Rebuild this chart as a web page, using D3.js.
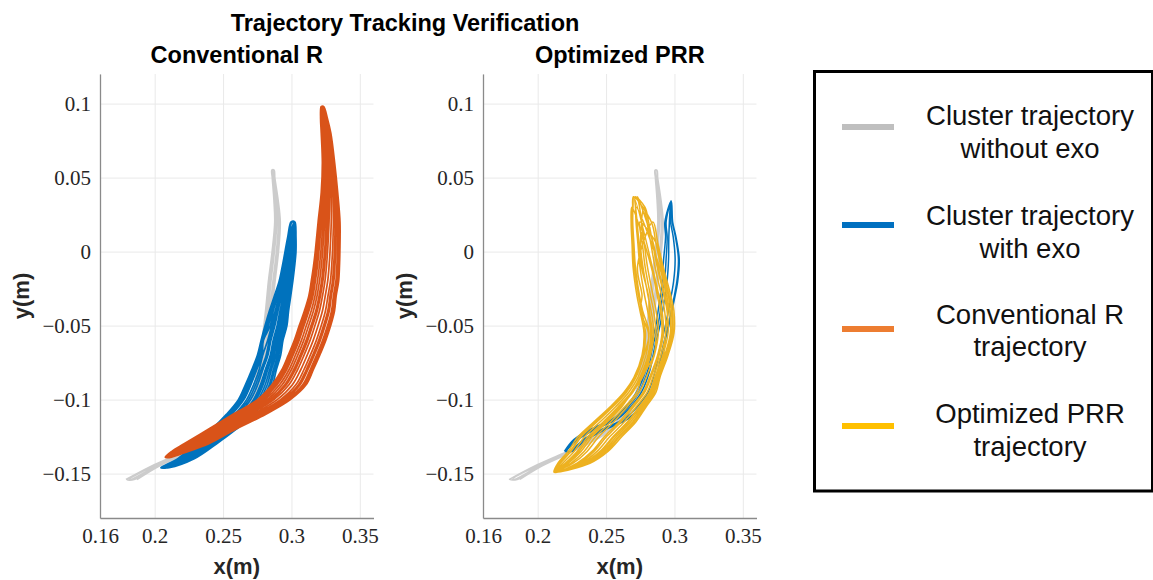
<!DOCTYPE html>
<html>
<head>
<meta charset="utf-8">
<script src="https://cdn.jsdelivr.net/npm/d3@7"></script>
<style>
  body { margin: 0; background: #fff; }
  svg { display: block; }
</style>
</head>
<body>
<svg id="chart" width="1153" height="580"></svg>
<script>
// Axis setup
const xDomain = [0.16, 0.36];
const yDomain = [-0.18, 0.12];
const xTicks = [0.16, 0.2, 0.25, 0.3, 0.35];
const xTickLabels = ['0.16', '0.2', '0.25', '0.3', '0.35'];
const yTicks = [-0.15, -0.1, -0.05, 0, 0.05, 0.1];
const yTickLabels = ['\u22120.15', '\u22120.1', '\u22120.05', '0', '0.05', '0.1'];

const mainTitle = 'Trajectory Tracking Verification';
const panelTitles = ['Conventional R', 'Optimized PRR'];
const legendLabels = [
    ['Cluster trajectory', 'without exo'],
    ['Cluster trajectory', 'with exo'],
    ['Conventional R', 'trajectory'],
    ['Optimized PRR', 'trajectory']
];

// Each series: y levels (bottom -> top) and x values of every pass through them.
// Passes alternate up / down, so they join into one continuous trajectory.
const grayLevels = [-0.154, -0.145, -0.135, -0.125, -0.115, -0.10, -0.08, -0.06, -0.04, -0.02, 0, 0.02, 0.035, 0.05, 0.055];
const grayPasses = [
    [0.1790, 0.1975, 0.2215, 0.2425, 0.2575, 0.2700, 0.2747, 0.2785, 0.2811, 0.2832, 0.2859, 0.2878, 0.2872, 0.2860, 0.2857],
    [0.1830, 0.2010, 0.2255, 0.2465, 0.2610, 0.2730, 0.2790, 0.2831, 0.2857, 0.2880, 0.2905, 0.2918, 0.2902, 0.2878, 0.2873],
    [0.1815, 0.1985, 0.2225, 0.2440, 0.2585, 0.2705, 0.2765, 0.2803, 0.2831, 0.2850, 0.2875, 0.2893, 0.2884],
    [0.1850, 0.2020, 0.2250, 0.2455, 0.2600, 0.2722, 0.2775, 0.2817, 0.2843, 0.2865, 0.2890, 0.2905, 0.2890, 0.2872],
    [0.1800, 0.1995, 0.2240, 0.2450, 0.2595, 0.2718, 0.2757, 0.2795, 0.2820, 0.2840, 0.2867, 0.2884, 0.2878, 0.2864, 0.2861],
    [0.1870, 0.2030, 0.2260, 0.2460, 0.2605, 0.2725, 0.2783, 0.2825, 0.2851, 0.2872, 0.2898, 0.2908, 0.2896, 0.2874, 0.2869]
];

const blueLevels = [-0.146, -0.14, -0.13, -0.12, -0.11, -0.10, -0.09, -0.08, -0.07, -0.06, -0.05, -0.04, -0.03, -0.02, -0.01, 0, 0.01, 0.02];
const bluePasses = [
    [0.2048, 0.2175, 0.2299, 0.2426, 0.2534, 0.2622, 0.2673, 0.2718, 0.2760, 0.2786, 0.2815, 0.2846, 0.2881, 0.2915, 0.2938, 0.2957, 0.2976, 0.2998],
    [0.2100, 0.2280, 0.2439, 0.2584, 0.2709, 0.2797, 0.2848, 0.2876, 0.2908, 0.2926, 0.2955, 0.2969, 0.2986, 0.3003, 0.3016, 0.3027, 0.3029, 0.3025],
    [0.2063, 0.2205, 0.2339, 0.2471, 0.2584, 0.2672, 0.2723, 0.2763, 0.2790, 0.2826, 0.2855, 0.2881, 0.2911, 0.2940, 0.2960, 0.2977],
    [0.2084, 0.2247, 0.2395, 0.2534, 0.2654, 0.2742, 0.2793, 0.2826, 0.2862, 0.2882, 0.2911, 0.2930, 0.2953, 0.2975, 0.2992, 0.3005, 0.3012, 0.3018],
    [0.2054, 0.2187, 0.2315, 0.2444, 0.2554, 0.2642, 0.2693, 0.2736, 0.2776, 0.2795, 0.2831, 0.2860, 0.2893, 0.2925, 0.2946, 0.2965, 0.2982],
    [0.2105, 0.2289, 0.2451, 0.2597, 0.2724, 0.2812, 0.2863, 0.2889, 0.2921, 0.2938, 0.2967, 0.2979, 0.2995, 0.3010, 0.3023, 0.3033, 0.3033, 0.3027],
    [0.2072, 0.2223, 0.2363, 0.2498, 0.2614, 0.2702, 0.2753, 0.2790, 0.2828, 0.2850, 0.2879, 0.2902, 0.2929, 0.2955, 0.2974, 0.2989],
    [0.2093, 0.2265, 0.2419, 0.2561, 0.2684, 0.2772, 0.2823, 0.2853, 0.2887, 0.2906, 0.2935, 0.2951, 0.2971, 0.2990, 0.3005, 0.3017, 0.3021, 0.3022],
    [0.2045, 0.2169, 0.2291, 0.2417, 0.2524, 0.2612, 0.2663, 0.2709, 0.2751, 0.2778, 0.2807, 0.2839, 0.2875, 0.2910, 0.2933, 0.2953, 0.2973, 0.2997],
    [0.2078, 0.2235, 0.2379, 0.2516, 0.2634, 0.2722, 0.2773, 0.2808, 0.2845, 0.2866, 0.2895, 0.2916, 0.2941, 0.2965, 0.2983, 0.2997, 0.3006, 0.3015],
    [0.2057, 0.2193, 0.2323, 0.2453, 0.2564, 0.2652, 0.2703, 0.2745, 0.2785, 0.2795, 0.2845, 0.2867, 0.2899, 0.2930, 0.2951, 0.2969, 0.2985, 0.3003],
    [0.2089, 0.2256, 0.2407, 0.2548, 0.2669, 0.2757, 0.2808, 0.2840, 0.2874, 0.2894, 0.2923, 0.2941, 0.2962, 0.2983, 0.2998, 0.3011, 0.3017, 0.3019],
    [0.2068, 0.2214, 0.2351, 0.2485, 0.2599, 0.2687, 0.2738, 0.2777, 0.2815, 0.2838, 0.2867, 0.2892, 0.2920, 0.2948, 0.2967, 0.2983, 0.2995],
    [0.2098, 0.2274, 0.2431, 0.2575, 0.2699, 0.2787, 0.2838, 0.2867, 0.2900, 0.2918, 0.2947, 0.2962, 0.2980, 0.2998, 0.3012, 0.3023, 0.3026, 0.3023],
    [0.2051, 0.2181, 0.2307, 0.2435, 0.2544, 0.2632, 0.2683, 0.2727, 0.2768, 0.2794, 0.2823, 0.2853, 0.2887, 0.2920, 0.2942],
    [0.2081, 0.2241, 0.2387, 0.2525, 0.2644, 0.2732, 0.2783, 0.2817, 0.2853, 0.2874, 0.2903, 0.2923, 0.2947, 0.2970, 0.2987, 0.3001, 0.3009, 0.3015]
];

const orangeLevels = [-0.139, -0.135, -0.13, -0.12, -0.11, -0.10, -0.09, -0.08, -0.07, -0.06, -0.05, -0.04, -0.03, -0.02, -0.01, 0, 0.02, 0.04, 0.06, 0.08, 0.09, 0.098];
const orangePasses = [
    [0.2079, 0.2131, 0.2221, 0.2402, 0.2582, 0.2764, 0.2870, 0.2941, 0.2989, 0.3033, 0.3069, 0.3106, 0.3137, 0.3155, 0.3171, 0.3183, 0.3203, 0.3224, 0.3231, 0.3222, 0.3216, 0.3218],
    [0.2115, 0.2239, 0.2383, 0.2582, 0.2798, 0.2980, 0.3095, 0.3148, 0.3196, 0.3240, 0.3276, 0.3304, 0.3317, 0.3335, 0.3342, 0.3345, 0.3347, 0.3332, 0.3312, 0.3285, 0.3261, 0.3236],
    [0.2089, 0.2161, 0.2266, 0.2452, 0.2642, 0.2824, 0.2932, 0.2998, 0.3046, 0.3090, 0.3126, 0.3161, 0.3187, 0.3205, 0.3218, 0.3228, 0.3243, 0.3254, 0.3253, 0.3239],
    [0.2105, 0.2209, 0.2338, 0.2532, 0.2738, 0.2920, 0.3032, 0.3090, 0.3138, 0.3182, 0.3218, 0.3249, 0.3267, 0.3285, 0.3294, 0.3300, 0.3307, 0.3302, 0.3289, 0.3267, 0.3248, 0.3231],
    [0.2083, 0.2143, 0.2239, 0.2422, 0.2606, 0.2788, 0.2895, 0.2964, 0.3012, 0.3056, 0.3092, 0.3128, 0.3157, 0.3175, 0.3190, 0.3201, 0.3219, 0.3236, 0.3240, 0.3229, 0.3221],
    [0.2117, 0.2245, 0.2392, 0.2592, 0.2810, 0.2992, 0.3107, 0.3159, 0.3207, 0.3251, 0.3287, 0.3315, 0.3327, 0.3345, 0.3351, 0.3354, 0.3355, 0.3338, 0.3316, 0.3288, 0.3263, 0.3237],
    [0.2097, 0.2185, 0.2302, 0.2492, 0.2690, 0.2872, 0.2982, 0.3044, 0.3092, 0.3136, 0.3172, 0.3205, 0.3227, 0.3245, 0.3256, 0.3264, 0.3275, 0.3278, 0.3271],
    [0.2110, 0.2224, 0.2361, 0.2557, 0.2768, 0.2950, 0.3063, 0.3119, 0.3167, 0.3211, 0.3247, 0.3277, 0.3292, 0.3310, 0.3318, 0.3323, 0.3327, 0.3317, 0.3300, 0.3276, 0.3254, 0.3234],
    [0.2077, 0.2125, 0.2212, 0.2392, 0.2570, 0.2752, 0.2857, 0.2929, 0.2977, 0.3021, 0.3057, 0.3095, 0.3127, 0.3145, 0.3161, 0.3174, 0.3195, 0.3218, 0.3226, 0.3218, 0.3213, 0.3217],
    [0.2094, 0.2176, 0.2289, 0.2477, 0.2672, 0.2854, 0.2963, 0.3027, 0.3075, 0.3119, 0.3155, 0.3189, 0.3212, 0.3230, 0.3242, 0.3251, 0.3263, 0.3269, 0.3264, 0.3248, 0.3234, 0.3225],
    [0.2086, 0.2152, 0.2252, 0.2437, 0.2624, 0.2806, 0.2913, 0.2981, 0.3029, 0.3073, 0.3109, 0.3145, 0.3172, 0.3190, 0.3204, 0.3215, 0.3231, 0.3245, 0.3246, 0.3234, 0.3224, 0.3222],
    [0.2101, 0.2197, 0.2320, 0.2512, 0.2714, 0.2896, 0.3007, 0.3067, 0.3115, 0.3159, 0.3195, 0.3227, 0.3247, 0.3265, 0.3275, 0.3282, 0.3291, 0.3290, 0.3280, 0.3260, 0.3243, 0.3229],
    [0.2081, 0.2137, 0.2230, 0.2412, 0.2594, 0.2776, 0.2882, 0.2952, 0.3000, 0.3044, 0.3080, 0.3117, 0.3147, 0.3165, 0.3180, 0.3192, 0.3211, 0.3230],
    [0.2113, 0.2233, 0.2374, 0.2572, 0.2786, 0.2968, 0.3082, 0.3136, 0.3184, 0.3228, 0.3264, 0.3293, 0.3307, 0.3325, 0.3332, 0.3336, 0.3339, 0.3326, 0.3307, 0.3281, 0.3258, 0.3235],
    [0.2092, 0.2170, 0.2280, 0.2467, 0.2660, 0.2842, 0.2951, 0.3015, 0.3063, 0.3107, 0.3143, 0.3178, 0.3202, 0.3220, 0.3232, 0.3242, 0.3255, 0.3263, 0.3260, 0.3244, 0.3232, 0.3225],
    [0.2108, 0.2218, 0.2352, 0.2547, 0.2756, 0.2938, 0.3051, 0.3107, 0.3155, 0.3199, 0.3235, 0.3266, 0.3282, 0.3300, 0.3308, 0.3314, 0.3319, 0.3311, 0.3296, 0.3272]
];

const blue2Levels = [-0.135, -0.127, -0.12, -0.113, -0.105, -0.095, -0.08, -0.065, -0.05, -0.035, -0.02, -0.005, 0.01, 0.02, 0.034];
const blue2Passes = [
    [0.2195, 0.2264, 0.2387, 0.2548, 0.2643, 0.2723, 0.2791, 0.2824, 0.2864, 0.2888, 0.2910, 0.2921, 0.2935, 0.2930],
    [0.2249, 0.2354, 0.2495, 0.2656, 0.2751, 0.2831, 0.2881, 0.2914, 0.2954, 0.2988, 0.3018, 0.3029, 0.3007, 0.2984, 0.2976],
    [0.2213, 0.2294, 0.2423, 0.2584, 0.2679, 0.2759, 0.2821, 0.2854, 0.2894, 0.2922, 0.2946, 0.2957, 0.2959],
    [0.2237, 0.2334, 0.2471, 0.2632, 0.2727, 0.2807, 0.2861, 0.2894, 0.2934, 0.2966, 0.2994, 0.3005, 0.2991, 0.2972, 0.2972],
    [0.2204, 0.2279, 0.2405, 0.2566, 0.2661, 0.2741, 0.2806, 0.2839, 0.2879, 0.2905, 0.2928, 0.2939, 0.2947, 0.2939],
    [0.2252, 0.2359, 0.2501, 0.2662, 0.2757, 0.2837, 0.2886, 0.2919, 0.2959, 0.2993, 0.3024, 0.3035, 0.3011, 0.2987, 0.2977]
];

const yellowLevels = [-0.149, -0.143, -0.135, -0.125, -0.115, -0.105, -0.095, -0.085, -0.07, -0.055, -0.04, -0.03, -0.01, 0.005, 0.02, 0.03, 0.037];
const yellowPasses = [
    [0.2121, 0.2160, 0.2237, 0.2312, 0.2426, 0.2541, 0.2643, 0.2713, 0.2772, 0.2788, 0.2760, 0.2738, 0.2708, 0.2699, 0.2691, 0.2694, 0.2700],
    [0.2147, 0.2364, 0.2492, 0.2592, 0.2696, 0.2772, 0.2847, 0.2880, 0.2939, 0.2981, 0.2977, 0.2955, 0.2901, 0.2866, 0.2831],
    [0.2129, 0.2224, 0.2317, 0.2400, 0.2511, 0.2614, 0.2690, 0.2766, 0.2825, 0.2849, 0.2829, 0.2807, 0.2769, 0.2752],
    [0.2141, 0.2318, 0.2434, 0.2528, 0.2634, 0.2719, 0.2801, 0.2842, 0.2901, 0.2937, 0.2928, 0.2906, 0.2857, 0.2828, 0.2799, 0.2775],
    [0.2124, 0.2183, 0.2266, 0.2344, 0.2457, 0.2568, 0.2666, 0.2733, 0.2792, 0.2810, 0.2750, 0.2763, 0.2730],
    [0.2149, 0.2382, 0.2514, 0.2616, 0.2719, 0.2792, 0.2865, 0.2894, 0.2953, 0.2997, 0.2996, 0.2974, 0.2917, 0.2880, 0.2843],
    [0.2133, 0.2259, 0.2361, 0.2448, 0.2557, 0.2653, 0.2742, 0.2794, 0.2853, 0.2882, 0.2866, 0.2844, 0.2802, 0.2780, 0.2759, 0.2745, 0.2731],
    [0.2144, 0.2341, 0.2463, 0.2560, 0.2665, 0.2746, 0.2824, 0.2861, 0.2920, 0.2935, 0.2953, 0.2931, 0.2879, 0.2847],
    [0.2119, 0.2148, 0.2222, 0.2296, 0.2411, 0.2528, 0.2631, 0.2704, 0.2763, 0.2777, 0.2748, 0.2726, 0.2697, 0.2690, 0.2683, 0.2688],
    [0.2137, 0.2288, 0.2397, 0.2488, 0.2596, 0.2686, 0.2771, 0.2818, 0.2877, 0.2909, 0.2897, 0.2875, 0.2829],
    [0.2126, 0.2201, 0.2288, 0.2368, 0.2480, 0.2587, 0.2684, 0.2747, 0.2806, 0.2827, 0.2804, 0.2782, 0.2747, 0.2733, 0.2719, 0.2715, 0.2713],
    [0.2143, 0.2335, 0.2456, 0.2552, 0.2657, 0.2739, 0.2818, 0.2856, 0.2915, 0.2953, 0.2946, 0.2924, 0.2873, 0.2842, 0.2811, 0.2784],
    [0.2131, 0.2242, 0.2339, 0.2424, 0.2534, 0.2634, 0.2725, 0.2760, 0.2850, 0.2865, 0.2847, 0.2825, 0.2785, 0.2766, 0.2747],
    [0.2148, 0.2370, 0.2499, 0.2600, 0.2704, 0.2779, 0.2853, 0.2885, 0.2944, 0.2986, 0.2984, 0.2962, 0.2906, 0.2870],
    [0.2121, 0.2166, 0.2244, 0.2320, 0.2434, 0.2548, 0.2649, 0.2718, 0.2777, 0.2815, 0.2767, 0.2745, 0.2714, 0.2704, 0.2695, 0.2697, 0.2702],
    [0.2139, 0.2300, 0.2412, 0.2504, 0.2611, 0.2700, 0.2783, 0.2828, 0.2887, 0.2920, 0.2909, 0.2887],
    [0.2127, 0.2212, 0.2302, 0.2384, 0.2496, 0.2601, 0.2695, 0.2756, 0.2815, 0.2837, 0.2816, 0.2810, 0.2758, 0.2742, 0.2727, 0.2721],
    [0.2145, 0.2353, 0.2478, 0.2576, 0.2680, 0.2759, 0.2836, 0.2870, 0.2929, 0.2970, 0.2965, 0.2943, 0.2890]
];

// Colours
const plotColors = { gray: '#cccccc', blue: '#0072BD', orange: '#D95319', yellow: '#EDB120' };
const legendColors = ['#bfbfbf', '#0070C0', '#ED7D31', '#FFC000'];

// Layout
const plotTop = 74, plotBottom = 518, plotWidth = 273.5;
const panelLefts = [100, 483];

const svg = d3.select('#chart');

// Turn level/pass arrays into one ordered list of [x, y] points
function tracePoints(levels, passes) {
    const pts = [];
    passes.forEach((xs, i) => {
        const seg = xs.map((v, k) => [v, levels[k]]);
        if (i % 2 === 1) seg.reverse();
        pts.push(...seg);
    });
    return pts;
}

function drawPanel(left, title, layers) {
    const x = d3.scaleLinear().domain(xDomain).range([left, left + plotWidth]);
    const y = d3.scaleLinear().domain(yDomain).range([plotBottom, plotTop]);
    const g = svg.append('g');

    // Grid lines
    g.append('g')
        .attr('transform', `translate(0,${plotBottom})`)
        .call(d3.axisBottom(x).tickValues(xTicks).tickSize(-(plotBottom - plotTop)).tickFormat(''))
        .call(a => a.select('.domain').remove())
        .selectAll('line').attr('stroke', '#e9e9e9').attr('stroke-width', 1);

    g.append('g')
        .attr('transform', `translate(${left},0)`)
        .call(d3.axisLeft(y).tickValues(yTicks).tickSize(-plotWidth).tickFormat(''))
        .call(a => a.select('.domain').remove())
        .selectAll('line').attr('stroke', '#e9e9e9').attr('stroke-width', 1);

    // Trajectories
    const line = d3.line()
        .x(d => x(d[0]))
        .y(d => y(d[1]))
        .curve(d3.curveCatmullRom.alpha(0.5));

    layers.forEach(l => {
        g.append('path')
            .datum(tracePoints(l.levels, l.passes))
            .attr('d', line)
            .attr('fill', 'none')
            .attr('stroke', l.color)
            .attr('stroke-width', l.width)
            .attr('stroke-linejoin', 'round');
    });

    // Axes (left + bottom only)
    const xAxis = g.append('g')
        .attr('transform', `translate(0,${plotBottom})`)
        .call(d3.axisBottom(x).tickValues(xTicks).tickSize(0).tickSizeOuter(0).tickPadding(0)
            .tickFormat((d, i) => xTickLabels[i]));
    const yAxis = g.append('g')
        .attr('transform', `translate(${left},0)`)
        .call(d3.axisLeft(y).tickValues(yTicks).tickSize(0).tickSizeOuter(0).tickPadding(0)
            .tickFormat((d, i) => yTickLabels[i]));

    [xAxis, yAxis].forEach(a => {
        a.attr('font-family', null).attr('font-size', null);
        a.select('.domain').attr('stroke', '#8a8a8a').attr('stroke-width', 1.3);
        a.selectAll('text')
            .attr('fill', '#262626')
            .style('font-family', '"Liberation Serif", "DejaVu Serif", serif')
            .style('font-size', '21px');
    });
    xAxis.selectAll('text').attr('dy', null).attr('y', 25);
    yAxis.selectAll('text').attr('x', -9).attr('dy', '0.35em');

    // Axis labels
    g.append('text')
        .attr('x', left + plotWidth / 2)
        .attr('y', 574)
        .attr('text-anchor', 'middle')
        .style('font-family', '"Liberation Sans", Arial, sans-serif')
        .style('font-weight', 'bold')
        .style('font-size', '22px')
        .attr('fill', '#262626')
        .text('x(m)');

    g.append('text')
        .attr('transform', `translate(${left - 71},296) rotate(-90)`)
        .attr('text-anchor', 'middle')
        .style('font-family', '"Liberation Sans", Arial, sans-serif')
        .style('font-weight', 'bold')
        .style('font-size', '22px')
        .attr('fill', '#262626')
        .text('y(m)');

    // Panel title
    g.append('text')
        .attr('x', left + plotWidth / 2)
        .attr('y', 63)
        .attr('text-anchor', 'middle')
        .style('font-family', '"Liberation Sans", Arial, sans-serif')
        .style('font-weight', 'bold')
        .style('font-size', '23.5px')
        .attr('fill', '#000')
        .text(title);
}

drawPanel(panelLefts[0], panelTitles[0], [
    { levels: grayLevels, passes: grayPasses, color: plotColors.gray, width: 1.7 },
    { levels: blueLevels, passes: bluePasses, color: plotColors.blue, width: 1.7 },
    { levels: orangeLevels, passes: orangePasses, color: plotColors.orange, width: 1.7 }
]);

drawPanel(panelLefts[1], panelTitles[1], [
    { levels: grayLevels, passes: grayPasses, color: plotColors.gray, width: 1.4 },
    { levels: blue2Levels, passes: blue2Passes, color: plotColors.blue, width: 1.5 },
    { levels: yellowLevels, passes: yellowPasses, color: plotColors.yellow, width: 1.5 }
]);

// Main title
svg.append('text')
    .attr('x', 405)
    .attr('y', 31)
    .attr('text-anchor', 'middle')
    .style('font-family', '"Liberation Sans", Arial, sans-serif')
    .style('font-weight', 'bold')
    .style('font-size', '23.5px')
    .attr('fill', '#000')
    .text(mainTitle);

// Legend
const legend = svg.append('g');
legend.append('rect')
    .attr('x', 814.5).attr('y', 71.5)
    .attr('width', 338).attr('height', 419.5)
    .attr('fill', '#fff')
    .attr('stroke', '#000')
    .attr('stroke-width', 3);

const legendLineY = [127, 225, 329, 426];
const legendTextY = [[125, 158], [225, 258], [324, 356], [423, 456]];

legendLabels.forEach((lines, i) => {
    legend.append('line')
        .attr('x1', 842).attr('x2', 894)
        .attr('y1', legendLineY[i]).attr('y2', legendLineY[i])
        .attr('stroke', legendColors[i])
        .attr('stroke-width', 6);
    lines.forEach((t, j) => {
        legend.append('text')
            .attr('x', 1030)
            .attr('y', legendTextY[i][j])
            .attr('text-anchor', 'middle')
            .style('font-family', '"Liberation Sans", Arial, sans-serif')
            .style('font-size', '27.5px')
            .attr('fill', '#111')
            .text(t);
    });
});
</script>
</body>
</html>
